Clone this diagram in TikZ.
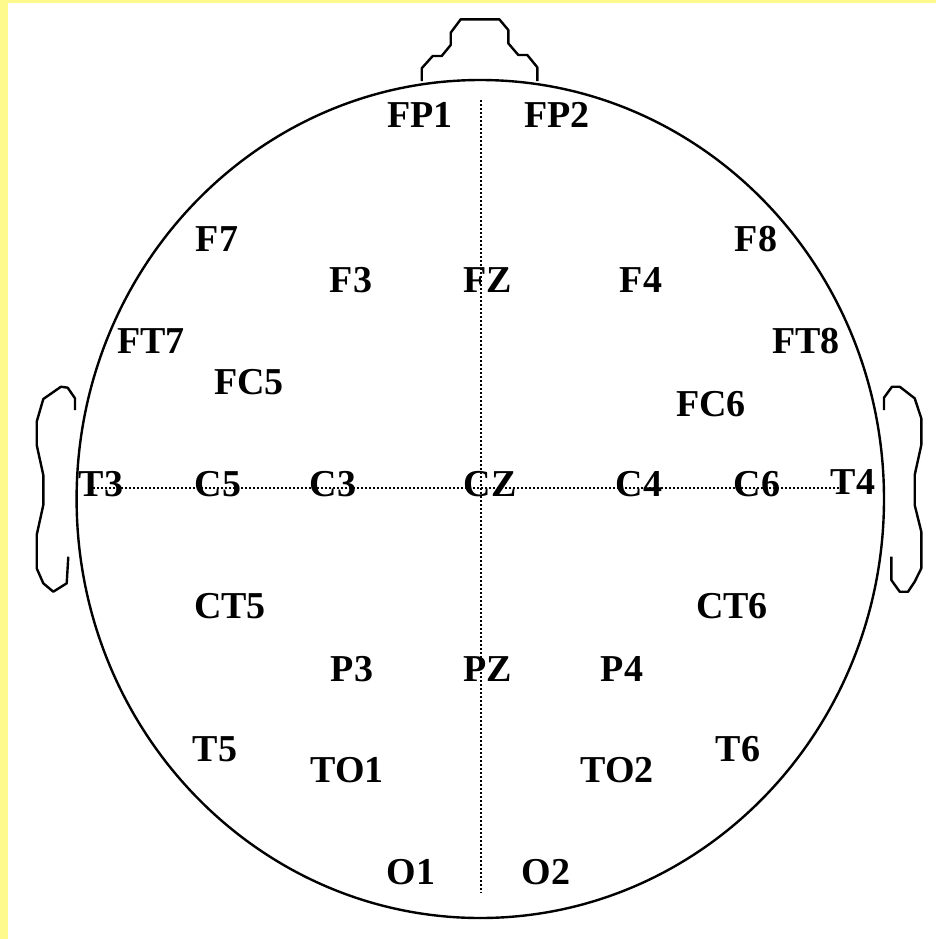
\documentclass[tikz,border=0pt]{standalone}
\usepackage{fontspec}
\setmainfont{Liberation Serif}
\usepackage{xcolor}
\definecolor{paleyellow}{RGB}{255,250,140}
\tikzset{
  elec/.style={font=\fontsize{19}{22}\selectfont\bfseries, inner sep=0pt, text height=12.5pt, text depth=0pt},
  outline/.style={line width=1.2pt, line join=round},
  midline/.style={line width=0.8pt, dash pattern=on 0.8pt off 1.2pt}
}
\begin{document}
\begin{tikzpicture}[x=0.5pt,y=-0.5pt]
\useasboundingbox (0,0) rectangle (936,939);
\fill[white] (0,0) rectangle (936,939);
\fill[paleyellow] (0,0) rectangle (8,939);
\fill[paleyellow] (0,0) rectangle (936,3);
% head, nose and ears
\draw[outline] (480.3,499) ellipse (403.7 and 419);
\draw[outline] (421.7,81) -- (421.7,68.3) -- (432.7,56) -- (441.7,56) -- (450.7,45) -- (450.7,32.7)
  -- (460.7,19.3) -- (499.3,19.3) -- (508.3,30) -- (508.3,43.3) -- (518.3,55) -- (527.3,55)
  -- (537.3,67.3) -- (537.3,81);
\draw[outline] (75,410) -- (75,398.3) -- (67.7,387.7) -- (61,386.7) -- (43.3,399) -- (36.7,421.7)
  -- (36.7,445) -- (43.3,475) -- (43.3,505) -- (36.7,535) -- (36.7,568.3) -- (43.3,583.3)
  -- (53.3,591.7) -- (66.7,583.3) -- (68.3,556.7);
\draw[outline] (884,410) -- (884,397.7) -- (892,386.7) -- (899.7,386.7) -- (914.7,398.3) -- (921.3,418.3)
  -- (921.3,445) -- (914.7,475) -- (914.7,505) -- (921.3,531.7) -- (921.3,568.3) -- (914.7,581.7)
  -- (908,591.7) -- (899.7,591.7) -- (891.3,580) -- (891.3,556.7);
% electrodes
\foreach \name/\x/\y in {FP1/420/115, FP2/557/115, F7/217/239, F8/756/239,
  F3/351/280, FZ/488/280, F4/641/280, FT7/151/341, FT8/806/341, FC5/249/382, FC6/711/404,
  T3/101/484, C5/218/484, C3/333/484, CZ/490/484, C4/639/484, C6/757/484, T4/853/482,
  CT5/230/606, CT6/732/606, P3/352/669, PZ/488/669, P4/622/669,
  T5/215/749, T6/738/749, TO1/347/770, TO2/617/770, O1/411/872, O2/546/872}
  \node[elec] (\name) at (\x,\y) {\name};
% midlines
\coordinate (nasion) at (481,100);
\coordinate (inion) at (481,893);
\coordinate (leftpre) at (93,488);
\coordinate (rightpre) at (840,488);
\draw[midline] (nasion) -- (inion);
\draw[midline] (leftpre) -- (rightpre);
\end{tikzpicture}
\end{document}
